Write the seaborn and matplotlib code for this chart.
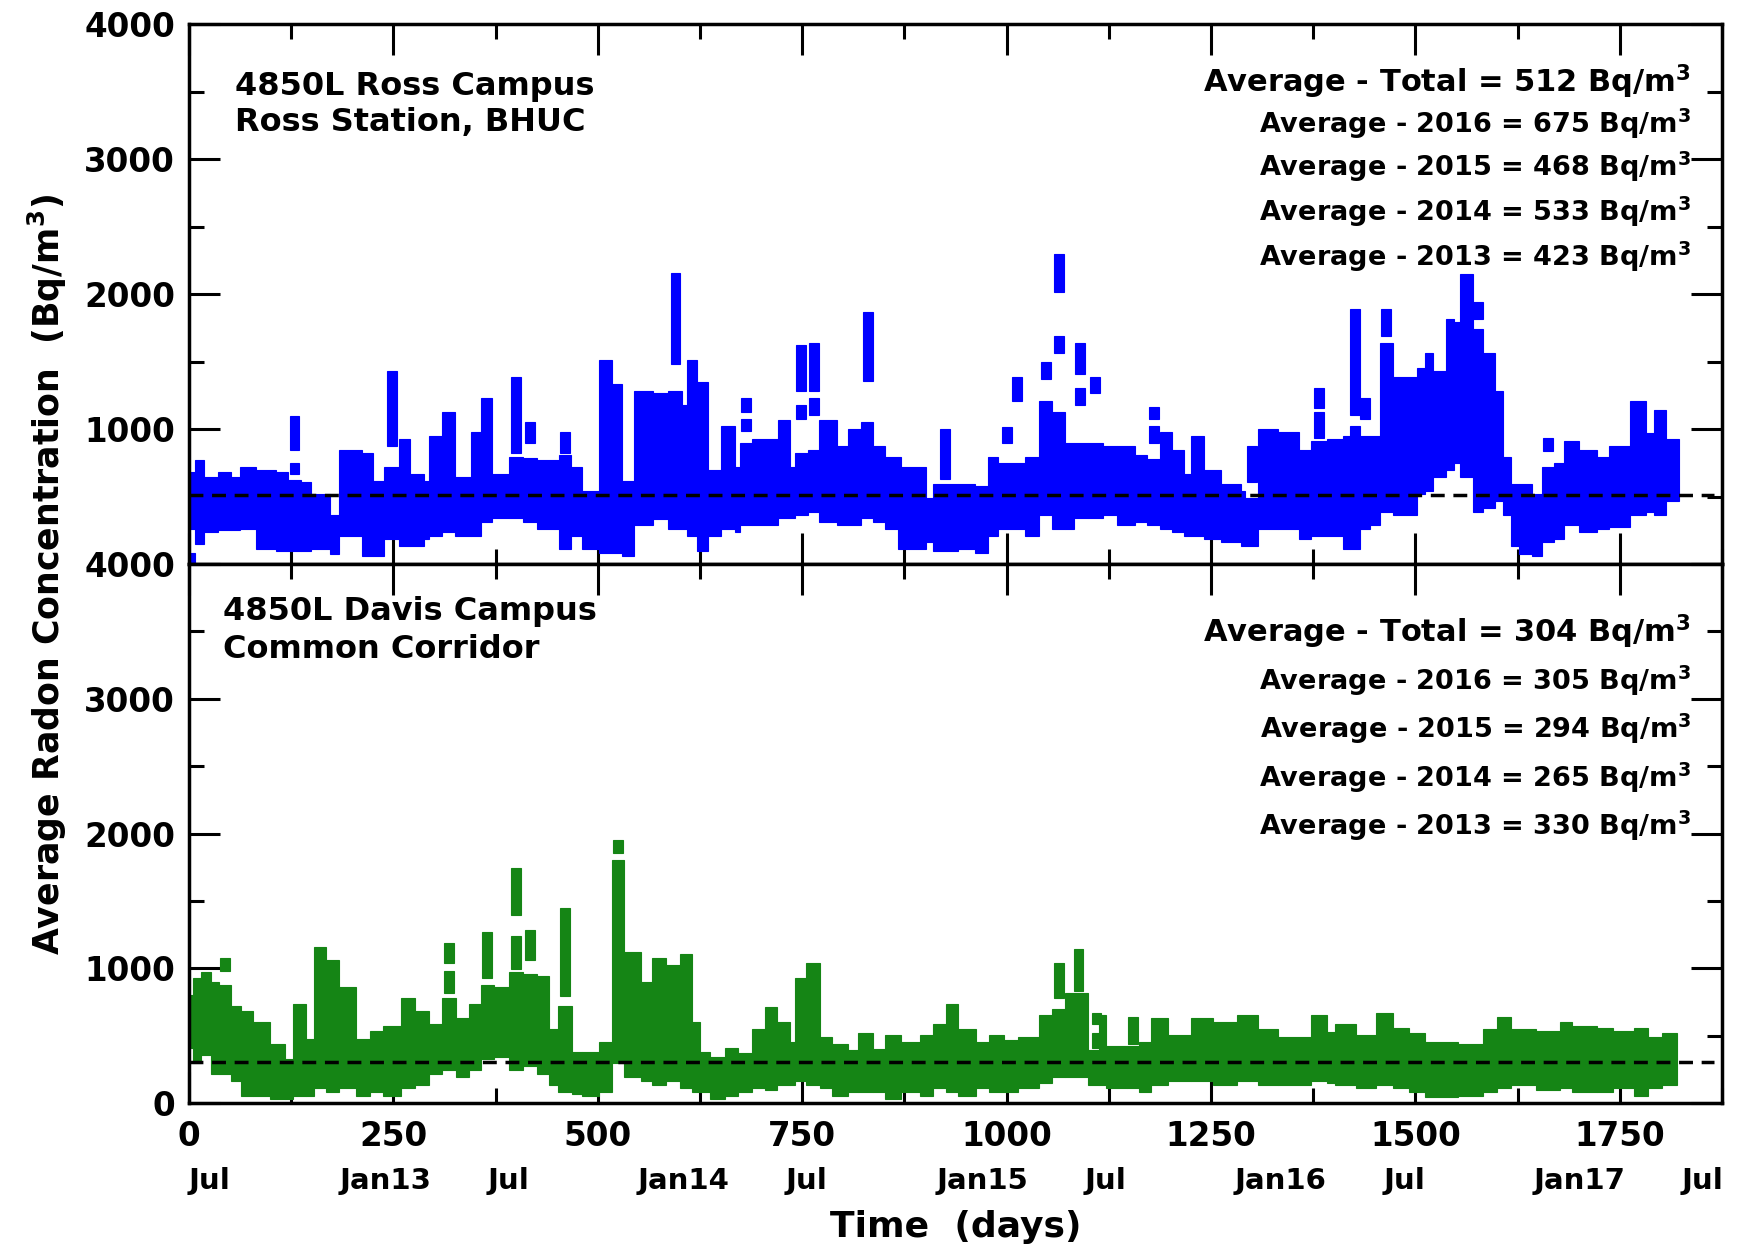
import numpy as np
import pandas as pd
import seaborn as sns
import matplotlib
matplotlib.use('Agg')
import matplotlib.pyplot as plt
import matplotlib.transforms as mtransforms
from matplotlib.ticker import MultipleLocator

# ---- Ross Station (top): weekly blocks, start day / low / high (Bq/m3)
ross_day = [0, 7, 19, 35, 52, 62, 82, 107, 121, 137,
            149, 172, 184, 212, 225, 239, 257, 270, 288, 294,
            310, 325, 345, 357, 371, 392, 408, 426, 453, 467,
            481, 502, 518, 530, 544, 567, 586, 603, 609, 621,
            635, 651, 668, 674, 688, 721, 735, 741, 757, 771,
            792, 806, 822, 837, 851, 867, 871, 902, 910, 940,
            961, 977, 989, 1022, 1040, 1056, 1072, 1082, 1100, 1118,
            1135, 1157, 1172, 1187, 1202, 1217, 1226, 1242, 1262, 1287,
            1292, 1307, 1332, 1357, 1372, 1392, 1412, 1420, 1432, 1445,
            1457, 1472, 1502, 1512, 1522, 1537, 1547, 1555, 1570, 1582,
            1597, 1607, 1617, 1627, 1642, 1655, 1670, 1682, 1700, 1722,
            1737, 1762, 1782, 1792, 1807]
ross_low = [262, 150, 237, 250, 250, 262, 110, 100, 97, 97,
            110, 71, 211, 59, 59, 186, 135, 135, 186, 211,
            237, 211, 211, 313, 338, 338, 313, 262, 110, 211,
            110, 84, 84, 59, 288, 330, 262, 262, 211, 97,
            211, 262, 237, 288, 288, 338, 338, 364, 389, 313,
            288, 288, 338, 313, 262, 110, 110, 160, 97, 110,
            84, 211, 262, 211, 364, 262, 262, 338, 338, 364,
            288, 313, 288, 262, 237, 211, 211, 186, 160, 135,
            135, 262, 262, 186, 211, 211, 110, 110, 262, 288,
            389, 364, 518, 542, 644, 693, 745, 644, 389, 415,
            466, 364, 135, 71, 59, 160, 186, 288, 237, 262,
            275, 364, 389, 364, 466]
ross_high = [680, 770, 645, 680, 645, 720, 700, 680, 620, 610,
             516, 364, 847, 821, 618, 720, 923, 669, 618, 949,
             1127, 644, 975, 1229, 669, 796, 784, 771, 809, 720,
             542, 1509, 1330, 618, 1280, 1270, 1280, 1180, 1509, 1350,
             695, 1025, 720, 898, 923, 1064, 720, 822, 847, 1064,
             873, 1000, 1050, 873, 796, 796, 720, 490, 593, 593,
             580, 796, 745, 796, 1204, 1127, 898, 898, 898, 873,
             873, 810, 780, 975, 847, 669, 949, 695, 593, 540,
             491, 1000, 975, 847, 911, 923, 949, 1025, 949, 949,
             1636, 1382, 1450, 1560, 1430, 1814, 1790, 2145, 1740, 1560,
             1280, 796, 593, 593, 516, 720, 745, 911, 847, 796,
             873, 1204, 970, 1140, 924]
ross_end = 1822

# isolated high readings above the band
ross_iso_day = [2, 129, 129, 248, 400, 417, 460, 595, 681, 681,
                749, 749, 764, 764, 830, 925, 1000, 1013, 1048, 1064,
                1064, 1090, 1090, 1108, 1180, 1180, 1300, 1382, 1382, 1426,
                1438, 1464, 1576, 1662]
ross_iso_low = [10, 847, 669, 873, 822, 898, 822, 1483, 1127, 987,
                1280, 1076, 1280, 1102, 1356, 631, 898, 1204, 1369, 2018,
                1560, 1407, 1178, 1267, 1076, 898, 606, 1153, 936, 1102,
                1076, 1687, 1814, 835]
ross_iso_high = [80, 1100, 745, 1432, 1382, 1051, 975, 2158, 1229, 1076,
                 1623, 1178, 1636, 1229, 1865, 1000, 1013, 1382, 1496, 2298,
                 1687, 1636, 1305, 1382, 1165, 1025, 873, 1305, 1127, 1890,
                 1229, 1890, 1941, 936]

# ---- Davis common corridor (bottom)
davis_day = [0, 5, 15, 27, 37, 52, 64, 78, 99, 117,
             127, 143, 153, 168, 184, 204, 221, 237, 259, 276,
             294, 310, 327, 343, 357, 373, 392, 408, 426, 440,
             451, 469, 481, 502, 518, 532, 553, 566, 584, 601,
             615, 625, 637, 656, 672, 688, 704, 719, 735, 741,
             755, 772, 786, 806, 818, 837, 851, 871, 894, 910,
             926, 941, 963, 979, 997, 1014, 1040, 1056, 1072, 1099,
             1113, 1122, 1147, 1162, 1177, 1197, 1225, 1252, 1282, 1307,
             1332, 1372, 1392, 1402, 1427, 1452, 1472, 1492, 1512, 1552,
             1582, 1600, 1617, 1647, 1677, 1692, 1722, 1742, 1767, 1785,
             1802]
davis_low = [409, 300, 355, 218, 218, 164, 55, 55, 27, 27,
             55, 55, 109, 82, 109, 55, 82, 55, 109, 136,
             218, 245, 191, 245, 327, 341, 245, 273, 218, 136,
             82, 68, 55, 82, 300, 191, 164, 136, 164, 109,
             82, 82, 27, 55, 82, 109, 95, 136, 136, 164,
             136, 109, 55, 82, 82, 82, 27, 82, 55, 109,
             82, 55, 109, 82, 82, 109, 150, 191, 191, 136,
             136, 109, 109, 82, 136, 164, 164, 136, 164, 136,
             136, 164, 150, 136, 109, 136, 109, 82, 41, 55,
             82, 109, 136, 95, 109, 82, 82, 109, 55, 109,
             136]
davis_high = [805, 930, 970, 900, 873, 723, 682, 600, 437, 327,
              737, 477, 1160, 1064, 860, 477, 532, 573, 778, 682,
              587, 778, 628, 737, 873, 860, 969, 955, 941, 546,
              723, 382, 382, 450, 1800, 1119, 900, 1078, 1023, 1105,
              600, 382, 341, 409, 368, 546, 709, 600, 450, 928,
              1037, 491, 437, 390, 518, 400, 505, 450, 505, 587,
              737, 546, 450, 505, 470, 491, 655, 696, 818, 396,
              655, 423, 420, 450, 628, 505, 628, 600, 655, 546,
              491, 655, 530, 587, 505, 668, 559, 518, 450, 437,
              546, 641, 546, 532, 600, 573, 559, 532, 559, 491,
              518]
davis_end = 1820

davis_iso_day = [44, 318, 318, 365, 400, 400, 417, 460, 525, 1064,
                 1088, 1110, 1110, 1155]
davis_iso_low = [982, 1037, 818, 928, 1392, 996, 1064, 791, 1855, 778,
                 832, 587, 409, 437]
davis_iso_high = [1078, 1187, 982, 1269, 1746, 1241, 1282, 1446, 1950, 1037,
                  1146, 668, 518, 641]

ross_avg = 512
davis_avg = 304
ross_text = ['Average - Total = 512 Bq/m$^3$', 'Average - 2016 = 675 Bq/m$^3$',
             'Average - 2015 = 468 Bq/m$^3$', 'Average - 2014 = 533 Bq/m$^3$',
             'Average - 2013 = 423 Bq/m$^3$']
davis_text = ['Average - Total = 304 Bq/m$^3$', 'Average - 2016 = 305 Bq/m$^3$',
              'Average - 2015 = 294 Bq/m$^3$', 'Average - 2014 = 265 Bq/m$^3$',
              'Average - 2013 = 330 Bq/m$^3$']

# month labels under the day axis (day 0 = 1 July 2012)
month_dates = ['2012-07-01', '2013-01-01', '2013-07-01', '2014-01-01', '2014-07-01',
               '2015-01-01', '2015-07-01', '2016-01-01', '2016-07-01', '2017-01-01',
               '2017-07-01']
month_labels = ['Jul', 'Jan13', 'Jul', 'Jan14', 'Jul', 'Jan15', 'Jul', 'Jan16',
                'Jul', 'Jan17', 'Jul']
month_days = (pd.to_datetime(month_dates) - pd.Timestamp('2012-07-01')).days

sns.set_theme(style='ticks')
plt.rcParams['font.family'] = ['DejaVu Sans']
plt.rcParams['font.weight'] = 'bold'
plt.rcParams['text.color'] = 'black'
plt.rcParams['axes.labelcolor'] = 'black'
plt.rcParams['mathtext.default'] = 'regular'

fig = plt.figure(figsize=(17.43, 12.52), dpi=100)
ax_top = fig.add_axes([0.1084, 0.5495, 0.8796, 0.4313])
ax_bot = fig.add_axes([0.1084, 0.1190, 0.8796, 0.4305])


def draw_panel(ax, day, low, high, end, iday, ilow, ihigh, color, avg):
    day = np.asarray(day)
    widths = np.diff(np.append(day, end))
    ax.bar(day, np.subtract(high, low), bottom=low, width=widths, align='edge',
           color=color, edgecolor=color, linewidth=0.8, zorder=2)
    ax.bar(iday, np.subtract(ihigh, ilow), bottom=ilow, width=12,
           color=color, edgecolor=color, linewidth=0.8, zorder=2)
    ax.hlines(avg, 0, 1865, colors='black', linestyles=(0, (4, 2.5)),
              linewidth=2.5, zorder=3)


draw_panel(ax_top, ross_day, ross_low, ross_high, ross_end,
           ross_iso_day, ross_iso_low, ross_iso_high, '#0000ff', ross_avg)
draw_panel(ax_bot, davis_day, davis_low, davis_high, davis_end,
           davis_iso_day, davis_iso_low, davis_iso_high, '#158515', davis_avg)

for ax in (ax_top, ax_bot):
    ax.set_xlim(0, 1875)
    ax.set_ylim(0, 4000)
    ax.xaxis.set_major_locator(MultipleLocator(250))
    ax.xaxis.set_minor_locator(MultipleLocator(125))
    ax.yaxis.set_minor_locator(MultipleLocator(500))
    ax.tick_params(which='both', direction='in', top=True, right=True,
                   width=2.2, color='black', labelsize=23.5, labelcolor='black')
    ax.tick_params(which='major', length=22)
    ax.tick_params(which='minor', length=11)
    ax.tick_params(axis='x', pad=12)
    ax.tick_params(axis='y', pad=10)
    for s in ax.spines.values():
        s.set_linewidth(2.5)
        s.set_color('black')
    ax.set_facecolor('white')

ax_top.set_yticks([0, 1000, 2000, 3000, 4000], labels=['', '1000', '2000', '3000', '4000'])
ax_bot.set_yticks([0, 1000, 2000, 3000, 4000])
ax_top.tick_params(axis='x', labelbottom=False)

# site names
ax_top.text(0.030, 0.868, '4850L Ross Campus', transform=ax_top.transAxes, fontsize=23)
ax_top.text(0.030, 0.801, 'Ross Station, BHUC', transform=ax_top.transAxes, fontsize=23)
ax_bot.text(0.022, 0.896, '4850L Davis Campus', transform=ax_bot.transAxes, fontsize=23)
ax_bot.text(0.022, 0.826, 'Common Corridor', transform=ax_bot.transAxes, fontsize=23)

# averages
ross_ys = [0.873, 0.798, 0.718, 0.635, 0.551]
davis_ys = [0.855, 0.766, 0.677, 0.586, 0.497]
for i, (t, y) in enumerate(zip(ross_text, ross_ys)):
    ax_top.text(0.980, y, t, transform=ax_top.transAxes, ha='right', va='baseline',
                fontsize=22 if i == 0 else 19.5)
for i, (t, y) in enumerate(zip(davis_text, davis_ys)):
    ax_bot.text(0.980, y, t, transform=ax_bot.transAxes, ha='right', va='baseline',
                fontsize=22 if i == 0 else 19.5)

# month labels
trans = mtransforms.blended_transform_factory(ax_bot.transData, ax_bot.transAxes)
for d, lab in zip(month_days, month_labels):
    ax_bot.text(d, -0.145, lab, transform=trans, ha='left', va='center', fontsize=21)

ax_bot.set_xlabel('Time  (days)', fontsize=26, fontweight='bold')
ax_bot.xaxis.set_label_coords(0.5, -0.198)
fig.text(0.027, 0.541, 'Average Radon Concentration  (Bq/m$^3$)', rotation=90,
         ha='center', va='center', fontsize=25)

fig.savefig('out.png', dpi=100)
